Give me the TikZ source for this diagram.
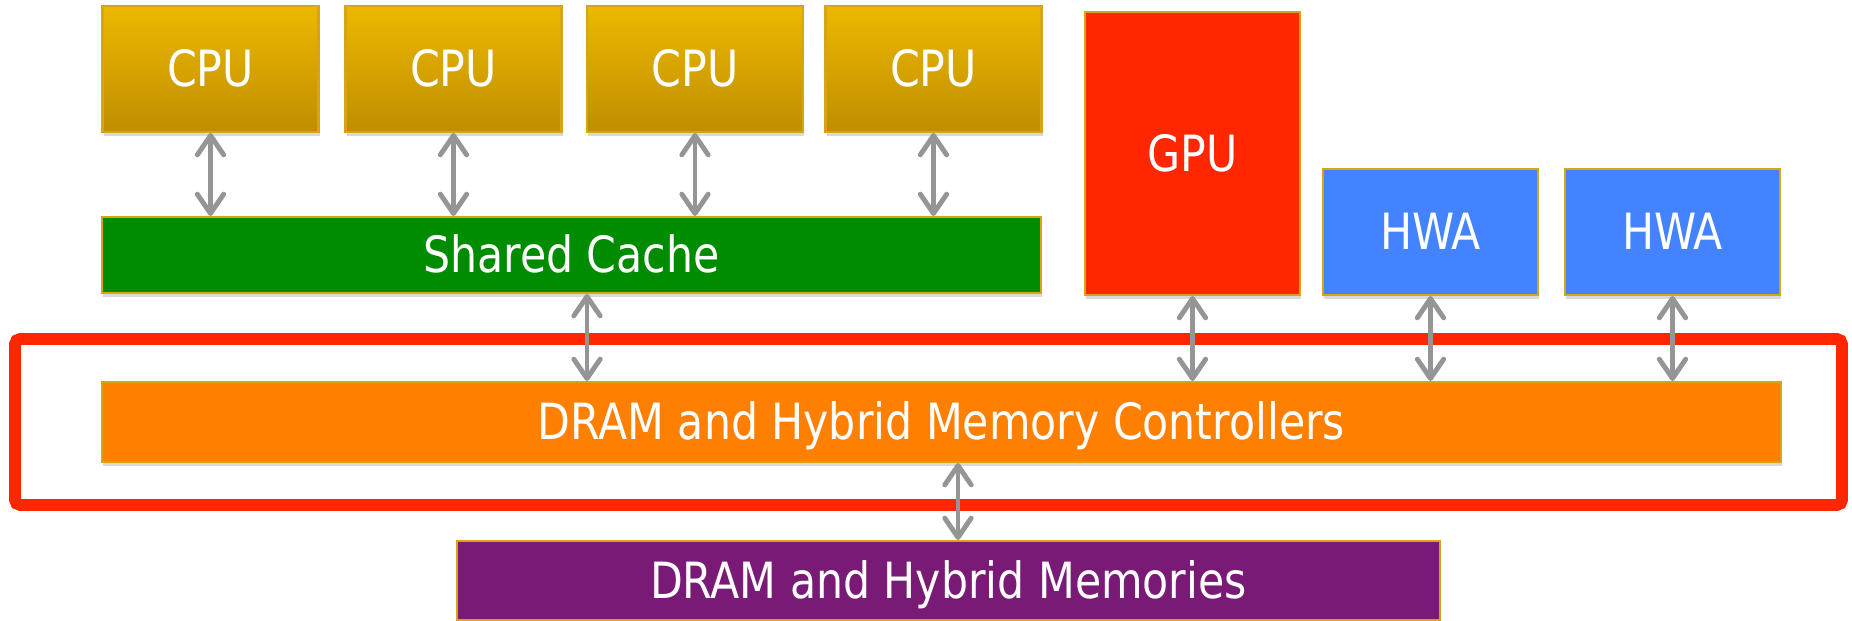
\documentclass[tikz,border=0pt]{standalone}
\usepackage{fontspec}
\setmainfont{DejaVu Sans Condensed}[FakeStretch=0.95]
\usetikzlibrary{arrows.meta,shadows}

\definecolor{cputop}{HTML}{EDB800}
\definecolor{cpubottom}{HTML}{BF8E00}
\definecolor{boxedge}{HTML}{D6A414}
\definecolor{cachegreen}{HTML}{008C00}
\definecolor{gpured}{HTML}{FF2600}
\definecolor{hwablue}{HTML}{4383FF}
\definecolor{mcorange}{HTML}{FF7F00}
\definecolor{mempurple}{HTML}{7A1A77}
\definecolor{linkgray}{HTML}{959595}

\tikzset{
  unit/.style={draw=boxedge, line width=0.6pt, text=white, inner sep=0pt,
    font=\fontsize{14.2}{16}\selectfont, text height=10.2pt, text depth=0pt,
    drop shadow={shadow xshift=0.4pt, shadow yshift=-1.2pt, opacity=0.3}},
  cpubox/.style={unit, top color=cputop, bottom color=cpubottom,
    minimum width=2.16cm, minimum height=1.26cm},
  hwabox/.style={unit, fill=hwablue, minimum width=2.15cm, minimum height=1.26cm},
  link/.style={{Straight Barb[length=5.5pt, width=7.5pt, round]}-{Straight Barb[length=5.5pt, width=7.5pt, round]},
    draw=linkgray, line width=1.4pt},
}

\begin{document}
\begin{tikzpicture}
  \useasboundingbox (0, 0) rectangle (18.52, 6.2);

  % the four cores
  \foreach \i/\x in {1/2.105, 2/4.535, 3/6.95, 4/9.335}{
    \node[cpubox] (cpu\i) at (\x, 5.51) {CPU};
  }
  % the cache they share
  \node[unit, fill=cachegreen, minimum width=9.39cm, minimum height=0.76cm]
    (cache) at (5.715, 3.65) {Shared Cache};

  % gpu and the accelerators
  \node[unit, fill=gpured, minimum width=2.15cm, minimum height=2.83cm]
    (gpu) at (11.925, 4.665) {GPU};
  \foreach \i/\x in {1/14.305, 2/16.725}{
    \node[hwabox] (hwa\i) at (\x, 3.88) {HWA};
  }

  % controllers and memories
  \node[unit, fill=mcorange, minimum width=16.79cm, minimum height=0.80cm]
    (mc) at (9.415, 1.98) {DRAM and Hybrid Memory Controllers};
  \node[unit, fill=mempurple, minimum width=9.83cm, minimum height=0.79cm]
    (mem) at (9.485, 0.395) {DRAM and Hybrid Memories};

  % the highlight round the controllers
  \draw[draw=gpured, line width=3.4pt, rounded corners=1.5pt]
    (0.15, 1.15) rectangle (18.42, 2.81);

  % links
  \coordinate (cachedown) at (5.87, 0);
  \coordinate (memup) at (9.58, 0);
  \foreach \i in {1, 2, 3, 4}{
    \draw[link] (cpu\i.south) -- (cpu\i.south |- cache.north);
  }
  \draw[link] (cache.south -| cachedown) -- (mc.north -| cachedown);
  \draw[link] (gpu.south) -- (gpu.south |- mc.north);
  \foreach \i in {1, 2}{
    \draw[link] (hwa\i.south) -- (hwa\i.south |- mc.north);
  }
  \draw[link] (mc.south -| memup) -- (mem.north -| memup);
\end{tikzpicture}
\end{document}
